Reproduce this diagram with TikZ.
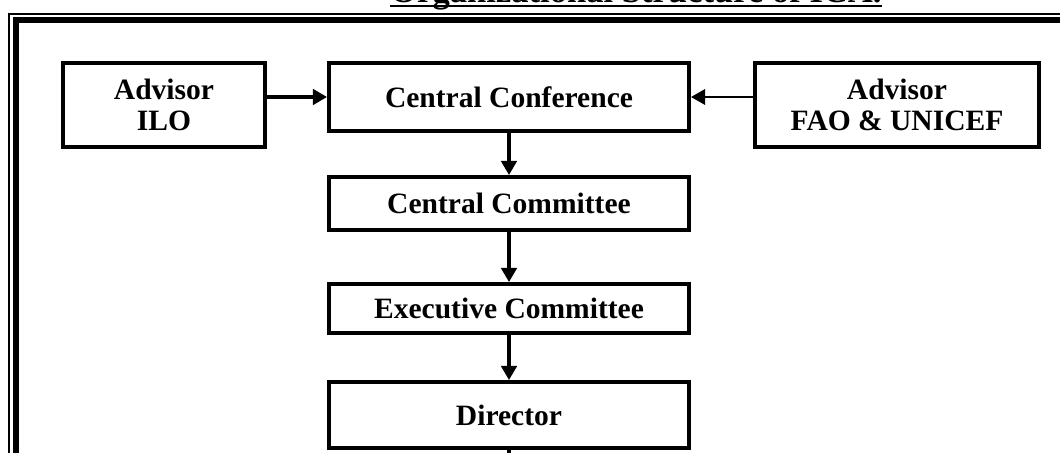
\documentclass[tikz,border=0pt]{standalone}
\usepackage{fontspec}
\setmainfont{Liberation Serif}
\usetikzlibrary{arrows.meta}
\begin{document}
\begin{tikzpicture}[x=0.025cm,y=-0.025cm,
  orgbox/.style={draw,line width=2.8pt,inner sep=0pt,align=center,
    font=\bfseries\fontsize{21}{22}\selectfont},
  flow/.style={line width=2.3pt,-{Triangle[length=10pt,width=11pt]}}]
\useasboundingbox (0,0) rectangle (1060,453);
% Page frame (runs off the right and bottom edges)
\draw[line width=1.4pt] (9.2,13.7) rectangle (1090,490);
\draw[line width=4.3pt] (16,20.3) rectangle (1080,480);
% Title, mostly cut off at the top
\node[anchor=base west,inner sep=0pt,font=\bfseries\fontsize{24.6}{26}\selectfont]
  (title) at (390,3) {Organizational Structure of ICA.};
\draw[line width=1.4pt] ([yshift=-1.8pt]title.base west) -- ([yshift=-1.8pt]title.base east);

% Top row
\node[orgbox,minimum width=5.05cm,minimum height=2.1cm] (ilo) at (164,105) {Advisor\\ILO};
\node[orgbox,minimum width=9cm,minimum height=1.7cm] (cc) at (509,97) {Central Conference};
\node[orgbox,minimum width=7.1cm,minimum height=2.1cm] (fao) at (897,105) {Advisor\\FAO \& UNICEF};

% Chain below
\node[orgbox,minimum width=9cm,minimum height=1.325cm] (ccom) at (509,203.5) {Central Committee};
\node[orgbox,minimum width=9cm,minimum height=1.225cm] (exec) at (509,308.5) {Executive Committee};
\node[orgbox,minimum width=9cm,minimum height=1.65cm] (dir) at (509,415) {Director};
\coordinate (tail) at (509,470);

% Connectors
\draw[flow] (ilo.east |- cc.west) -- (cc.west);
\draw[flow,line width=1.4pt] (fao.west |- cc.east) -- (cc.east);
\foreach \a/\b in {cc/ccom,ccom/exec,exec/dir}
  \draw[flow] (\a) -- (\b);
\draw[line width=2.3pt] (dir) -- (tail);
\end{tikzpicture}
\end{document}
